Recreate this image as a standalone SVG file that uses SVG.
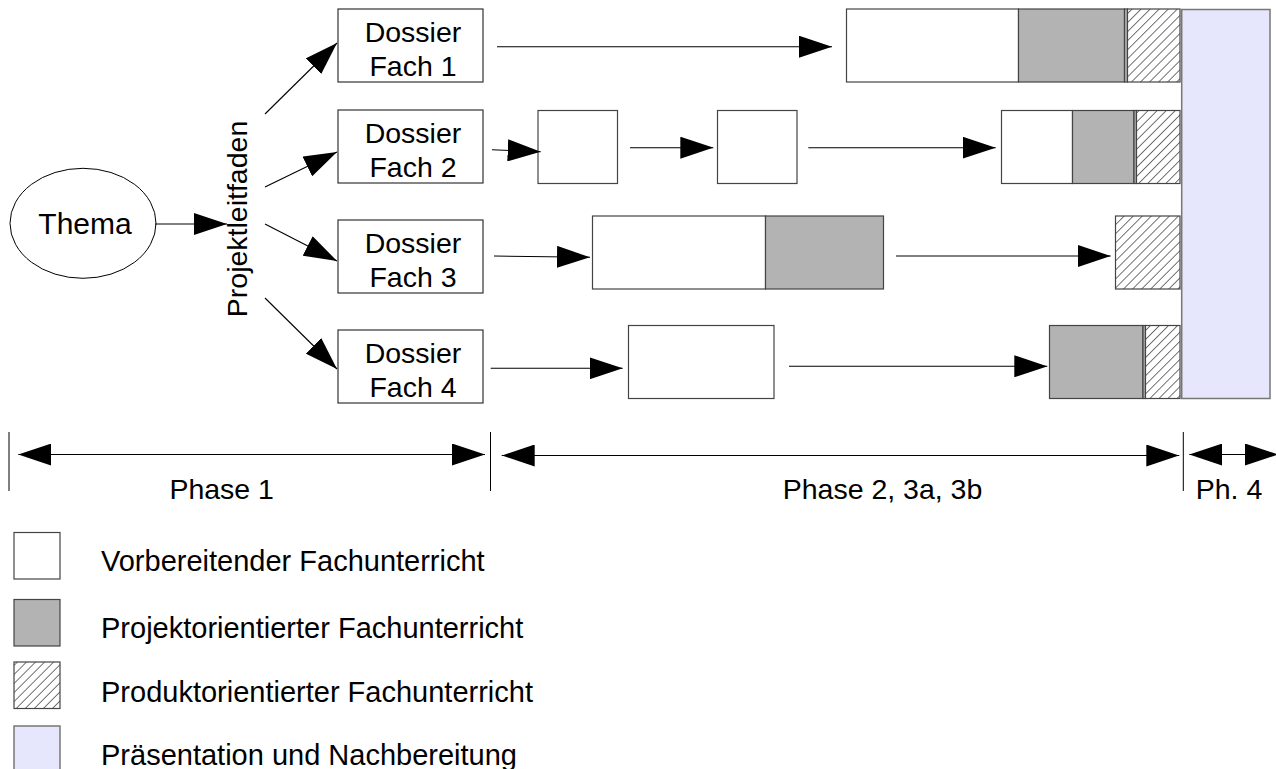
<svg xmlns="http://www.w3.org/2000/svg" width="1276" height="769" viewBox="0 0 1276 769">
<style>
text{font-family:"Liberation Sans",Arial,sans-serif;font-size:28.5px;fill:#000}
.c{text-anchor:middle}
.lg{font-size:29px}
.box{fill:#fff;stroke:#333;stroke-width:1.2}
.w{fill:#fff;stroke:#444;stroke-width:1.2}
.g{fill:#b3b3b3;stroke:#444;stroke-width:1.2}
.h{fill:url(#hatch);stroke:#444;stroke-width:1.2}
.p{fill:#e6e6fc;stroke:#777;stroke-width:1.5}
.ln{stroke:#000;stroke-width:1.1;fill:none;marker-end:url(#ah)}
.dl{stroke:#000;stroke-width:1.1;fill:none;marker-end:url(#ah);marker-start:url(#ahs)}
.tk{stroke:#000;stroke-width:1}
</style>
<defs>
<marker id="ah" markerUnits="userSpaceOnUse" markerWidth="33" markerHeight="22" refX="33" refY="11" orient="auto"><path d="M0,0 L33,11 L0,22 z" fill="#000"/></marker>
<marker id="ahs" markerUnits="userSpaceOnUse" markerWidth="33" markerHeight="22" refX="33" refY="11" orient="auto-start-reverse"><path d="M0,0 L33,11 L0,22 z" fill="#000"/></marker>
<pattern id="hatch" width="6.4" height="6.4" patternUnits="userSpaceOnUse" patternTransform="rotate(45)"><rect width="6.4" height="6.4" fill="#fff"/><line x1="0" y1="-1" x2="0" y2="7.4" stroke="#000" stroke-width="1.1"/></pattern>
</defs>

<g id="thema"><ellipse cx="83" cy="223.3" rx="73" ry="55" fill="#fff" stroke="#000" stroke-width="1"/><text class="c" x="85" y="234" style="font-size:30px">Thema</text></g>
<g id="projektleitfaden"><text class="c" transform="translate(247,219) rotate(-90)">Projektleitfaden</text></g>

<g id="dossier1"><rect class="box" x="338" y="9" width="145" height="73"/><text class="c" x="413" y="42">Dossier</text><text class="c" x="413" y="76">Fach 1</text></g>
<g id="dossier2"><rect class="box" x="338" y="110" width="145" height="73"/><text class="c" x="413" y="143">Dossier</text><text class="c" x="413" y="177">Fach 2</text></g>
<g id="dossier3"><rect class="box" x="338" y="220" width="145" height="73"/><text class="c" x="413" y="253">Dossier</text><text class="c" x="413" y="287">Fach 3</text></g>
<g id="dossier4"><rect class="box" x="338" y="330" width="145" height="73"/><text class="c" x="413" y="363">Dossier</text><text class="c" x="413" y="397">Fach 4</text></g>

<g id="row1">
<rect class="w" x="846.5" y="9" width="172" height="73"/>
<rect class="g" x="1018.5" y="9" width="106" height="73"/>
<rect class="g" x="1124.5" y="9" width="3" height="73"/>
<rect class="h" x="1127.5" y="9" width="52.5" height="73"/>
</g>
<g id="row2">
<rect class="w" x="538" y="110.5" width="79.5" height="73"/>
<rect class="w" x="717.5" y="110.5" width="79.5" height="73"/>
<rect class="w" x="1001.5" y="110.5" width="71" height="73"/>
<rect class="g" x="1072.5" y="110.5" width="61.5" height="73"/>
<rect class="g" x="1134" y="110.5" width="2.5" height="73"/>
<rect class="h" x="1136.5" y="110.5" width="43.5" height="73"/>
</g>
<g id="row3">
<rect class="w" x="592.5" y="216" width="173" height="73"/>
<rect class="g" x="765.5" y="216" width="118" height="73"/>
<rect class="h" x="1115.5" y="216" width="64.5" height="73"/>
</g>
<g id="row4">
<rect class="w" x="628.5" y="325.5" width="145.5" height="73"/>
<rect class="g" x="1049.5" y="325.5" width="93.5" height="73"/>
<rect class="g" x="1143" y="325.5" width="2.5" height="73"/>
<rect class="h" x="1145.5" y="325.5" width="34.5" height="73"/>
</g>
<g id="praesentation"><rect class="p" x="1181.7" y="9.5" width="88.3" height="389"/></g>

<g id="connectors">
<line class="ln" x1="155" y1="224" x2="227" y2="224"/>
<line class="ln" x1="265" y1="114" x2="337" y2="43"/>
<line class="ln" x1="265" y1="187" x2="337" y2="152"/>
<line class="ln" x1="265" y1="224" x2="337" y2="261"/>
<line class="ln" x1="265" y1="298" x2="337" y2="369"/>
<line class="ln" x1="497" y1="46.7" x2="832" y2="46.7"/>
<line class="ln" x1="492" y1="149.7" x2="540.7" y2="151.7"/>
<line class="ln" x1="630" y1="147.7" x2="713.3" y2="147.7"/>
<line class="ln" x1="808.3" y1="147.7" x2="995.7" y2="147.7"/>
<line class="ln" x1="494" y1="256" x2="590" y2="257.3"/>
<line class="ln" x1="896" y1="256" x2="1110.7" y2="256"/>
<line class="ln" x1="490.7" y1="368.3" x2="622.7" y2="368.3"/>
<line class="ln" x1="789" y1="366.3" x2="1047.3" y2="366.3"/>
</g>

<g id="phases">
<line class="tk" x1="9" y1="432" x2="9" y2="491"/>
<line class="tk" x1="490.5" y1="432" x2="490.5" y2="491"/>
<line class="tk" x1="1183.3" y1="432" x2="1183.3" y2="491"/>
<line class="dl" x1="18.3" y1="454.5" x2="485" y2="454.5"/>
<line class="dl" x1="501.7" y1="455.5" x2="1179.3" y2="455.5"/>
<line class="dl" x1="1189.3" y1="454.5" x2="1278" y2="454.5"/>
<text class="c" x="221.7" y="499">Phase 1</text>
<text class="c" x="882.5" y="499">Phase 2, 3a, 3b</text>
<text class="c" x="1229" y="498.5">Ph. 4</text>
</g>

<g id="legend">
<rect class="w" x="14" y="532.5" width="46" height="46.5"/>
<rect class="g" x="14" y="599.5" width="46" height="46.5"/>
<rect class="h" x="14" y="662" width="46" height="46.5"/>
<rect class="p" x="14" y="726" width="46" height="46.5"/>
<text class="lg" x="101" y="571">Vorbereitender Fachunterricht</text>
<text class="lg" x="101" y="638">Projektorientierter Fachunterricht</text>
<text class="lg" x="101" y="701.5">Produktorientierter Fachunterricht</text>
<text class="lg" x="101" y="765">Präsentation und Nachbereitung</text>
</g>
</svg>
